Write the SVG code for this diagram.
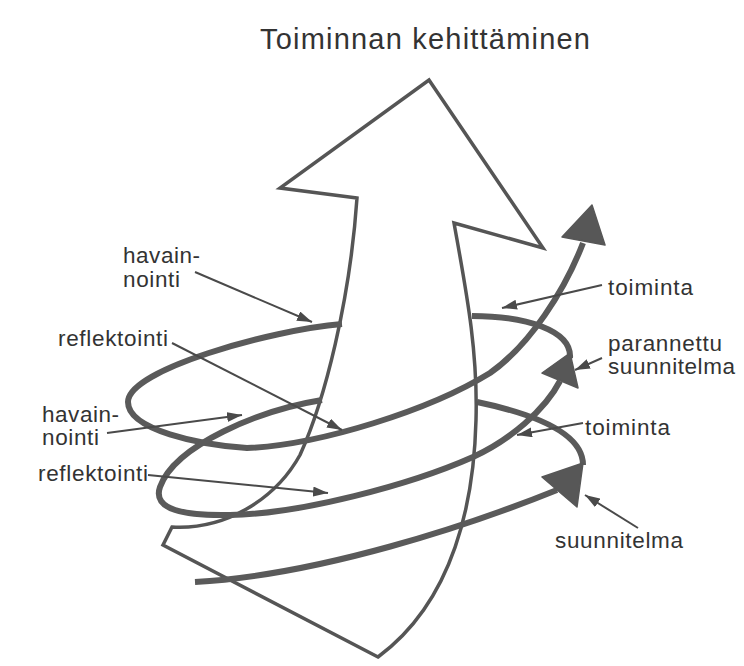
<svg xmlns="http://www.w3.org/2000/svg" width="744" height="666" viewBox="0 0 744 666">
<style>
.t{font-family:"Liberation Sans",Arial,sans-serif;font-size:22.5px;fill:#333}
.title{font-family:"Liberation Sans",Arial,sans-serif;font-size:29px;fill:#333}
.sp{fill:none;stroke:#5a5a5a;stroke-width:6;stroke-linecap:butt;stroke-linejoin:round}
.ah{fill:#575757;stroke:#575757;stroke-width:1.5;stroke-linejoin:round}
.big{fill:#fff;stroke:#555;stroke-width:3.5;stroke-linejoin:miter}
.ld{fill:none;stroke:#4a4a4a;stroke-width:2;marker-end:url(#m)}
</style>
<defs>
<marker id="m" markerUnits="userSpaceOnUse" markerWidth="16" markerHeight="10" refX="15" refY="5" orient="auto">
<path d="M0,0 L15,5 L0,10 Z" fill="#4a4a4a"/>
</marker>
</defs>
<rect width="744" height="666" fill="#fff"/>
<text class="title" x="260" y="49" textLength="330" lengthAdjust="spacing">Toiminnan kehittäminen</text>
<g id="back-segments">
<path class="sp" d="M472,316 C525,316 572,330 570,358"/>
<path class="sp" d="M477,402 C525,412 583,430 583,465"/>
</g>
<g id="main-arrow">
<path class="big" d="M357,198 L280,188 L429,80 L543,248 L454,223 C466,290 478,350 476,420 C474,500 455,600 378,657 L163,545 L172,527 C225,530 275,500 300,455 C325,400 350,300 357,198 Z"/>
</g>
<g id="spiral">
<path class="sp" d="M342,324 C270,330 128,370 128,402 C128,430 200,445 247,448 C320,445 430,410 490,373 C530,345 565,290 583,243"/>
<path class="sp" d="M322,400 C260,410 175,445 160,487 C152,510 185,516 230,515 C300,514 410,485 473,457 C510,440 545,410 560,381"/>
<path class="sp" d="M195,582 C320,575 470,525 557,490"/>
</g>
<g id="arrowheads">
<polygon class="ah" points="592,205 562,237 605,245"/>
<polygon class="ah" points="570,353 542,373 578,388"/>
<polygon class="ah" points="583,463 542,477 577,507"/>
</g>
<g id="connectors">
<line class="ld" x1="195" y1="272" x2="312" y2="322"/>
<line class="ld" x1="172" y1="343" x2="342" y2="430"/>
<line class="ld" x1="107" y1="433" x2="242" y2="415"/>
<line class="ld" x1="148" y1="475" x2="328" y2="493"/>
<line class="ld" x1="602" y1="285" x2="502" y2="308"/>
<line class="ld" x1="602" y1="358" x2="575" y2="370"/>
<line class="ld" x1="583" y1="423" x2="517" y2="435"/>
<line class="ld" x1="638" y1="528" x2="585" y2="495"/>
</g>
<g id="label-havainnointi-1"><text class="t" x="123" y="263" textLength="77" lengthAdjust="spacing">havain-</text><text class="t" x="123" y="287" textLength="57" lengthAdjust="spacing">nointi</text></g>
<g id="label-reflektointi-1"><text class="t" x="58" y="346" textLength="110" lengthAdjust="spacing">reflektointi</text></g>
<g id="label-havainnointi-2"><text class="t" x="42" y="422" textLength="77" lengthAdjust="spacing">havain-</text><text class="t" x="42" y="445" textLength="57" lengthAdjust="spacing">nointi</text></g>
<g id="label-reflektointi-2"><text class="t" x="38" y="481" textLength="110" lengthAdjust="spacing">reflektointi</text></g>
<g id="label-toiminta-1"><text class="t" x="608" y="295" textLength="85" lengthAdjust="spacing">toiminta</text></g>
<g id="label-parannettu"><text class="t" x="608" y="351" textLength="114" lengthAdjust="spacing">parannettu</text><text class="t" x="608" y="374" textLength="127" lengthAdjust="spacing">suunnitelma</text></g>
<g id="label-toiminta-2"><text class="t" x="585" y="435" textLength="85" lengthAdjust="spacing">toiminta</text></g>
<g id="label-suunnitelma"><text class="t" x="555" y="548" textLength="128" lengthAdjust="spacing">suunnitelma</text></g>
</svg>
